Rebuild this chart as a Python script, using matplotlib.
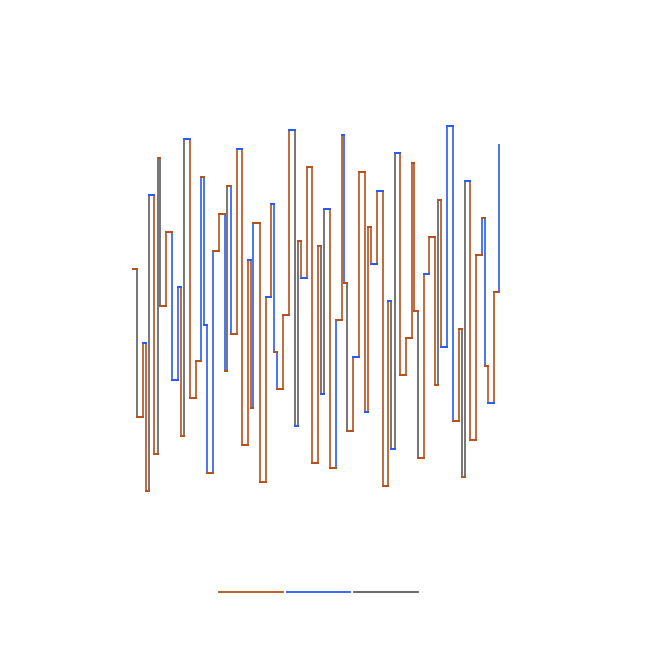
import matplotlib
matplotlib.use("Agg")
import matplotlib.pyplot as plt
from matplotlib.collections import LineCollection
from matplotlib.lines import Line2D

# ---- data ----
x_vals = [0, 3.7, 10, 12.7, 16, 21.3, 25, 26.7, 33.3, 39, 45, 48, 51, 56.7, 62.7,
          68.3, 71, 74.3, 80, 86, 91.7, 94.3, 97.7, 103.7, 109.3, 115, 118.3, 120.3,
          127, 132.7, 138.3, 141.3, 144.3, 150, 156, 162, 165, 167.7, 173.7, 179.3,
          185, 188.3, 190.7, 196.7, 202.7, 208.7, 211.3, 214.3, 220.3, 226.3, 232.3,
          234.7, 237.7, 244, 249.7, 255.3, 258.3, 261.7, 267, 273, 279, 281.3, 284.7,
          290.7, 296.3, 302, 305, 308, 314, 319.7, 325.7, 328.7, 331.7, 337.3, 343.3,
          349, 351.7, 355, 360.7, 366.3]
y_vals = [231, 83, 157, 9, 305, 46, 342, 194, 268, 120, 213, 64, 361, 102, 139,
          323, 175, 27, 249, 286, 129, 314, 166, 351, 55, 240, 92, 277, 18, 203,
          296, 148, 111, 185, 370, 74, 259, 222, 333, 37, 254, 106, 291, 32, 180,
          365, 217, 69, 143, 328, 88, 273, 236, 309, 14, 199, 51, 347, 125, 162,
          337, 189, 42, 226, 263, 115, 300, 153, 374, 79, 171, 23, 319, 60, 245,
          282, 134, 97, 208, 356]
# category of each horizontal (level) segment, one per point except the last
level_cat = list("AABABAAAAB" "BABAAABAAA" "AAABABAAAB" "BAAABBABAA"
                 "ABBAABAABA" "BABBABBBAA" "AAABAAABBA" "AABAAAABA")
# category of each vertical (change) segment
change_cat = list("CAACACCABB" "ACAABBBBAB" "CBAAAABAAA" "BBAACCAAAA"
                  "CCABABCAAA" "AAAAACCAAA" "ACAAACABBA" "CCAABBAAB")

categories = ["A", "B", "C"]
palette = {"A": "#b5521f", "B": "#2b5cf2", "C": "#5e5e5e"}

# ---- figure ----
W, H = 659, 645
fig = plt.figure(figsize=(W / 100, H / 100), dpi=100)
ax = fig.add_axes([133 / W, (H - 500) / H, 366.3 / W, 380 / H])
ax.set_xlim(0, 366.3)
ax.set_ylim(0, 380)
ax.axis("off")

n = len(x_vals)
vert_segs, vert_cols = [], []
hor_segs, hor_cols = [], []
for k in range(n - 1):
    hor_segs.append([(x_vals[k], y_vals[k]), (x_vals[k + 1], y_vals[k])])
    hor_cols.append(palette[level_cat[k]])
    vert_segs.append([(x_vals[k + 1], y_vals[k]), (x_vals[k + 1], y_vals[k + 1])])
    vert_cols.append(palette[change_cat[k]])

lw = 1.2
lc_v = LineCollection(vert_segs, colors=vert_cols, linewidths=lw, clip_on=False,
                      capstyle="butt")
lc_h = LineCollection(hor_segs, colors=hor_cols, linewidths=lw + 0.25, clip_on=False,
                      capstyle="projecting")
ax.add_collection(lc_v)
ax.add_collection(lc_h)

handles = [Line2D([], [], color=palette[c], lw=1.3) for c in categories]
fig.legend(handles, ["", "", ""], loc="center", ncol=3, frameon=False,
           bbox_to_anchor=(318.5 / W, 1 - 593 / H), handlelength=4.6,
           handletextpad=0.0, columnspacing=0.25, borderpad=0, fontsize=10)

fig.savefig("out.png", dpi=100, facecolor="white")
